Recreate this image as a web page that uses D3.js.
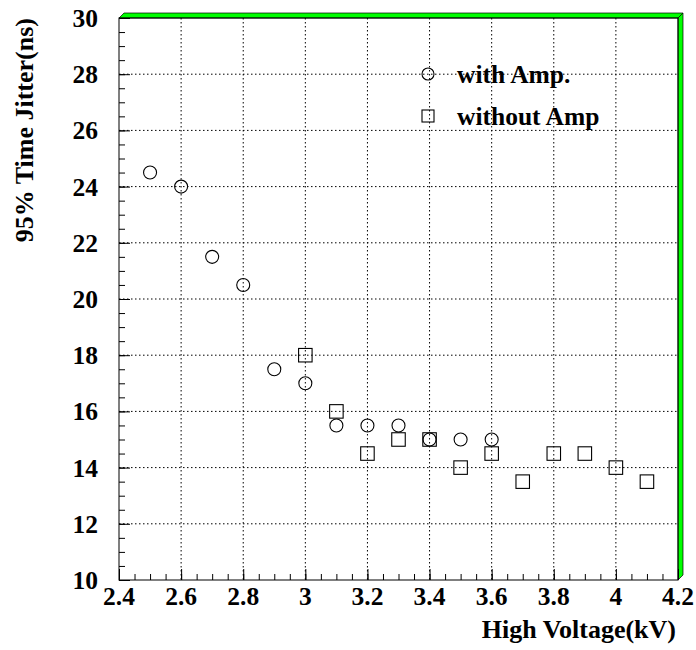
<!DOCTYPE html>
<html>
<head>
<meta charset="utf-8">
<script src="https://cdn.jsdelivr.net/npm/d3@7"></script>
<style>
  body { margin: 0; background: #fff; }
  svg { display: block; }
  text { font-family: "Liberation Serif", "Times New Roman", serif; font-weight: bold; }
</style>
</head>
<body>
<svg id="chart" width="696" height="650"></svg>
<script>
// Time jitter vs. high voltage, with and without amplifier
const withAmpHV     = [2.5, 2.6, 2.7, 2.8, 2.9, 3.0, 3.1, 3.2, 3.3, 3.4, 3.5, 3.6];
const withAmpJitter = [24.5, 24, 21.5, 20.5, 17.5, 17, 15.5, 15.5, 15.5, 15, 15, 15];

const noAmpHV     = [3.0, 3.1, 3.2, 3.3, 3.4, 3.5, 3.6, 3.7, 3.8, 3.9, 4.0, 4.1];
const noAmpJitter = [18, 16, 14.5, 15, 15, 14, 14.5, 13.5, 14.5, 14.5, 14, 13.5];

const xTicks = [2.4, 2.6, 2.8, 3.0, 3.2, 3.4, 3.6, 3.8, 4.0, 4.2];
const yTicks = [10, 12, 14, 16, 18, 20, 22, 24, 26, 28, 30];
const legendLabels = ["with Amp.", "without Amp"];

const svg = d3.select("#chart");
const L = 119, R = 678, T = 18, B = 580;
const FS = 25.5;

const x = d3.scaleLinear().domain([2.4, 4.2]).range([L, R]);
const y = d3.scaleLinear().domain([10, 30]).range([B, T]);

// green frame shadow on top and right
const sh = 5;
svg.append("polygon")
  .attr("points", [[L, T], [L + sh, T - sh], [R + sh, T - sh], [R, T]].join(" "))
  .attr("fill", "#00ff00").attr("stroke", "#000").attr("stroke-width", 0.7);
svg.append("polygon")
  .attr("points", [[R, T], [R + sh, T - sh], [R + sh, B - sh], [R, B]].join(" "))
  .attr("fill", "#00ff00").attr("stroke", "#000").attr("stroke-width", 0.7);

// dotted grid
const grid = svg.append("g").attr("stroke", "#000").attr("stroke-width", 1)
  .attr("stroke-dasharray", "1.5,2.5");
xTicks.slice(1, -1).forEach(v => {
  grid.append("line").attr("x1", x(v)).attr("x2", x(v)).attr("y1", T).attr("y2", B);
});
yTicks.slice(1, -1).forEach(v => {
  grid.append("line").attr("x1", L).attr("x2", R).attr("y1", y(v)).attr("y2", y(v));
});

// frame
svg.append("rect").attr("x", L).attr("y", T).attr("width", R - L).attr("height", B - T)
  .attr("fill", "none").attr("stroke", "#000").attr("stroke-width", 1);

// axes with major and minor ticks
const xMinor = d3.range(0, 37).map(i => 2.4 + i * 0.05);
const yMinor = d3.range(0, 41).map(i => 10 + i * 0.5);

const xAxisMinor = d3.axisTop(x).tickValues(xMinor).tickSize(6).tickFormat("");
const xAxisMajor = d3.axisTop(x).tickValues(xTicks).tickSize(11).tickFormat("");
svg.append("g").attr("transform", `translate(0,${B})`).call(xAxisMinor);
svg.append("g").attr("transform", `translate(0,${B})`).call(xAxisMajor);

const yAxisMinor = d3.axisRight(y).tickValues(yMinor).tickSize(6).tickFormat("");
const yAxisMajor = d3.axisRight(y).tickValues(yTicks).tickSize(11).tickFormat("");
svg.append("g").attr("transform", `translate(${L},0)`).call(yAxisMinor);
svg.append("g").attr("transform", `translate(${L},0)`).call(yAxisMajor);

svg.selectAll(".domain").remove();
svg.selectAll(".tick line").attr("stroke", "#000").attr("stroke-width", 1);

// tick labels
svg.append("g").selectAll("text").data(xTicks).join("text")
  .attr("x", d => x(d)).attr("y", B + 25)
  .attr("text-anchor", "middle").attr("font-size", FS)
  .text(d => d3.format("~g")(d));

svg.append("g").selectAll("text").data(yTicks).join("text")
  .attr("x", L - 21).attr("y", d => y(d) + 9)
  .attr("text-anchor", "end").attr("font-size", FS)
  .text(d => d);

// axis titles
svg.append("text").attr("x", R - 2).attr("y", 638)
  .attr("text-anchor", "end").attr("font-size", 26)
  .text("High Voltage(kV)");
svg.append("text")
  .attr("transform", `translate(33,${T}) rotate(-90)`)
  .attr("text-anchor", "end").attr("font-size", 26)
  .text("95% Time Jitter(ns)");

// markers
const marks = svg.append("g").attr("fill", "none").attr("stroke", "#000").attr("stroke-width", 1.1);
marks.selectAll("circle").data(withAmpHV.map((v, i) => [v, withAmpJitter[i]])).join("circle")
  .attr("cx", d => x(d[0])).attr("cy", d => y(d[1])).attr("r", 6.5);
const s = 13.5;
marks.selectAll("rect").data(noAmpHV.map((v, i) => [v, noAmpJitter[i]])).join("rect")
  .attr("x", d => x(d[0]) - s / 2).attr("y", d => y(d[1]) - s / 2)
  .attr("width", s).attr("height", s);

// legend
const lg = svg.append("g");
lg.append("circle").attr("cx", 428).attr("cy", 74).attr("r", 6)
  .attr("fill", "none").attr("stroke", "#000").attr("stroke-width", 1.1);
lg.append("rect").attr("x", 422).attr("y", 110).attr("width", 12).attr("height", 12)
  .attr("fill", "none").attr("stroke", "#000").attr("stroke-width", 1.1);
lg.append("text").attr("x", 457).attr("y", 83).attr("font-size", FS).text(legendLabels[0]);
lg.append("text").attr("x", 457).attr("y", 125).attr("font-size", FS).text(legendLabels[1]);
</script>
</body>
</html>
